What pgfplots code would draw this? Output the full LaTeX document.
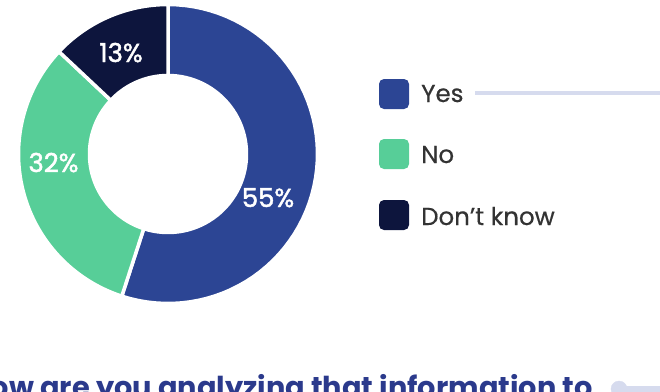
\documentclass[border=0pt]{standalone}
\usepackage{pgfplots}
\usepackage{pgfplotstable}
\pgfplotsset{compat=1.18}
\usepackage{fontspec}
\setmainfont{Poppins}
\newfontfamily\medfont{Poppins}[FakeBold=1.6]
\newfontfamily\legfont{Poppins}[FakeBold=0.6]
\definecolor{cyes}{HTML}{2C4594}
\definecolor{cno}{HTML}{57CE98}
\definecolor{cdk}{HTML}{0D153D}
\definecolor{lav}{HTML}{D6DBEE}
\definecolor{txt}{HTML}{333333}
\definecolor{titleblue}{HTML}{2B3A8C}

\pgfplotstableread{
label value
Yes 55
No 32
Dontknow 13
}\datatable
\pgfplotstablegetelem{0}{value}\of\datatable \let\va\pgfplotsretval
\pgfplotstablegetelem{1}{value}\of\datatable \let\vb\pgfplotsretval
\pgfplotstablegetelem{2}{value}\of\datatable \let\vc\pgfplotsretval
\pgfmathsetmacro\aA{90}
\pgfmathsetmacro\aB{\aA-3.6*\va}
\pgfmathsetmacro\aC{\aB-3.6*\vb}
\pgfmathsetmacro\aD{\aC-3.6*\vc}

\newcommand\wedgeplot[3]{%
  \addplot[fill=#1, draw=white, line width=3.5pt, line join=round,
    samples at={0,1,...,122}, variable=\i]
    ({168+((\i<=60) ? 149.5 : ((\i<=121) ? 78.5 : 149.5))*cos((\i<=60) ? (#2+(#3-#2)*\i/60) : ((\i<=121) ? (#3-(#3-#2)*(\i-61)/60) : #2))},
     {154-((\i<=60) ? 149.5 : ((\i<=121) ? 78.5 : 149.5))*sin((\i<=60) ? (#2+(#3-#2)*\i/60) : ((\i<=121) ? (#3-(#3-#2)*(\i-61)/60) : #2))});
}

\begin{document}
\begin{tikzpicture}
\useasboundingbox (0,0) rectangle (660pt,391pt);
\clip (0,0) rectangle (660pt,391pt);
\begin{axis}[
  at={(0,0)}, anchor=south west,
  scale only axis, width=660pt, height=391pt,
  xmin=0, xmax=660, ymin=0, ymax=391, y dir=reverse,
  hide axis, clip=false,
]
\wedgeplot{cyes}{\aA}{\aB}
\wedgeplot{cno}{\aB}{\aC}
\wedgeplot{cdk}{\aC}{\aD}
% percent labels
\node[anchor=base, text=white, font=\medfont\fontsize{26}{26}\selectfont] at (axis cs:268,207) {\va\%};
\node[anchor=base, text=white, font=\medfont\fontsize{26}{26}\selectfont] at (axis cs:53.5,172) {\vb\%};
\node[anchor=base, text=white, font=\medfont\fontsize{26}{26}\selectfont] at (axis cs:121,62) {\vc\%};
% legend
\addplot[fill=cyes, draw=none, rounded corners=5pt] coordinates {(394,79)(409,79)(409,109)(379,109)(379,79)(394,79)};
\addplot[fill=cno, draw=none, rounded corners=5pt] coordinates {(394,139)(409,139)(409,169)(379,169)(379,139)(394,139)};
\addplot[fill=cdk, draw=none, rounded corners=5pt] coordinates {(394,200)(409,200)(409,230)(379,230)(379,200)(394,200)};
\node[anchor=base west, text=txt, font=\legfont\fontsize{24.5}{24.5}\selectfont, inner sep=0pt] at (axis cs:421,102) {Yes};
\node[anchor=base west, text=txt, font=\legfont\fontsize{24.5}{24.5}\selectfont, inner sep=0pt] at (axis cs:421,163) {No};
\node[anchor=base west, text=txt, font=\legfont\fontsize{24.5}{24.5}\selectfont, inner sep=0pt] at (axis cs:421,225) {Don’t know};
\addplot[lav, line width=4pt] coordinates {(475,93)(662,93)};
% bottom partial title
\node[anchor=base east, text=titleblue, font=\bfseries\fontsize{28.8}{28.8}\selectfont, inner sep=0pt] at (axis cs:593,397) {How are you analyzing that information to};
\addplot[lav, line width=7pt] coordinates {(619,389)(662,389)};
\addplot[only marks, mark=*, mark size=8pt, color=lav] coordinates {(619,389)};
\end{axis}
\end{tikzpicture}
\end{document}
